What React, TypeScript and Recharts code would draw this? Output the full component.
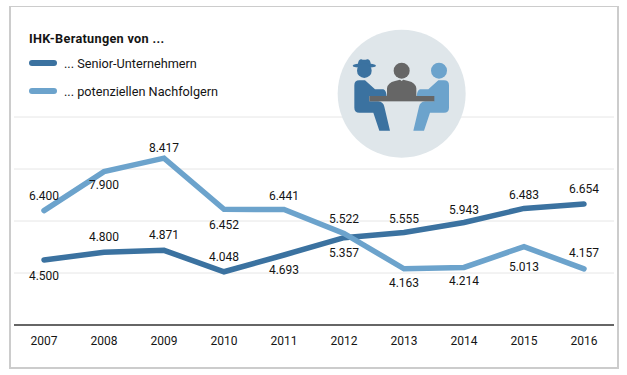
import React from 'react'
import { LineChart, Line, XAxis, YAxis, CartesianGrid } from 'recharts'

const years = ['2007', '2008', '2009', '2010', '2011', '2012', '2013', '2014', '2015', '2016']
const seniorValues = [4500, 4800, 4871, 4048, 4693, 5357, 5555, 5943, 6483, 6654]
const nachfolgerValues = [6400, 7900, 8417, 6452, 6441, 5522, 4163, 4214, 5013, 4157]
const yTicks = [2000, 4000, 6000, 8000, 10000]

// label shift from the point, hand tuned so labels keep clear of the lines
const seniorLabelShift = [16, -15, -15, -15, 15, 15, -14, -12, -13, -15]
const nachfolgerLabelShift = [-15, 13, -10, 16, -14, -14, 14, 14, 20, -16]

const data = years.map((year, i) => ({
  year,
  senior: seniorValues[i],
  nachfolger: nachfolgerValues[i]
}))

const DARK = '#3b72a0'
const LIGHT = '#6ca3cc'
const FONT = 'Roboto, sans-serif'
const TEXT = '#141414'

const legendItems = [
  { name: '... Senior-Unternehmern', color: DARK },
  { name: '... potenziellen Nachfolgern', color: LIGHT }
]

const pointLabel = (shifts: number[]) => (props: any) => {
  const { x, y, index, value } = props
  return (
    <text
      x={x}
      y={y + shifts[index]}
      textAnchor="middle"
      dominantBaseline="central"
      fontFamily={FONT}
      fontSize={12}
      fill={TEXT}
    >
      {Number(value).toLocaleString('de-DE')}
    </text>
  )
}

const LegendBox = () => (
  <div style={{ position: 'absolute', left: 29, top: 32, fontFamily: FONT, fontSize: 12.7, color: TEXT }}>
    <div style={{ fontWeight: 700, letterSpacing: 0.3, height: 17, lineHeight: '14px' }}>
      IHK-Beratungen von ...
    </div>
    {legendItems.map((item) => (
      <div key={item.name} style={{ display: 'flex', alignItems: 'center', height: 28 }}>
        <span
          style={{ width: 28, height: 6, borderRadius: 3, background: item.color, marginRight: 7 }}
        />
        <span>{item.name}</span>
      </div>
    ))}
  </div>
)

// meeting pictogram, drawn in 3x coordinates of its box
const Person = ({ color }: { color: string }) => (
  <path
    fill={color}
    d="M103 256 Q103 241 118 241 L135 241 L165 268 L190 268 Q198 270 200 288 L148 288 L148 304 L175 304 Q190 306 193 320 L210 392 L178 392 L160 338 L118 338 Q103 338 103 323 Z"
  />
)

const Pictogram = () => (
  <svg
    width={307}
    height={190}
    viewBox="0 0 921 570"
    style={{ position: 'absolute', left: 320, top: 0 }}
  >
    <circle cx={245} cy={281} r={192} fill="#dfe6ea" />
    <Person color={DARK} />
    <ellipse cx={133} cy={197} rx={35} ry={7} fill={DARK} />
    <path d="M113 197 Q115 176 124 178 Q132 181 142 178 Q151 176 153 197 Z" fill={DARK} />
    <circle cx={133} cy={212} r={22} fill={DARK} />
    <g transform="translate(490 0) scale(-1 1)">
      <Person color={LIGHT} />
    </g>
    <circle cx={357} cy={212} r={24} fill={LIGHT} />
    <circle cx={245} cy={212} r={24} fill="#666666" />
    <path
      d="M201 288 L201 265 Q203 248 225 243 L240 239 L245 243 L250 239 L265 243 Q287 248 289 265 L289 288 Z"
      fill="#666666"
    />
    <rect x={148} y={288} width={195} height={16} fill="#666666" />
  </svg>
)

export default function App() {
  return (
    <div style={{ position: 'absolute', left: 0, top: 0, width: 627, height: 375, background: '#fff' }}>
      <div
        style={{
          position: 'absolute',
          left: 9,
          top: 6,
          width: 606,
          height: 360,
          borderStyle: 'solid',
          borderColor: '#cccccc',
          borderWidth: '1px 2px 2px 2px'
        }}
      />
      <LineChart
        width={627}
        height={375}
        data={data}
        margin={{ top: 117, right: 13, bottom: 0, left: 14 }}
        style={{ position: 'absolute', left: 0, top: 0 }}
      >
        <CartesianGrid vertical={false} stroke="#e6e6e6" strokeWidth={1} />
        <XAxis
          dataKey="year"
          height={50}
          padding={{ left: 30, right: 30 }}
          axisLine={{ stroke: '#666666', strokeWidth: 2 }}
          tickLine={false}
          tickMargin={5}
          tick={{ fontFamily: FONT, fontSize: 12, fill: TEXT }}
          interval={0}
        />
        <YAxis hide domain={[2000, 10000]} ticks={yTicks} />
        <Line
          dataKey="senior"
          stroke={DARK}
          strokeWidth={5.5}
          strokeLinecap="round"
          dot={false}
          label={pointLabel(seniorLabelShift)}
          isAnimationActive={false}
        />
        <Line
          dataKey="nachfolger"
          stroke={LIGHT}
          strokeWidth={5.5}
          strokeLinecap="round"
          dot={false}
          label={pointLabel(nachfolgerLabelShift)}
          isAnimationActive={false}
        />
      </LineChart>
      <LegendBox />
      <Pictogram />
    </div>
  )
}
